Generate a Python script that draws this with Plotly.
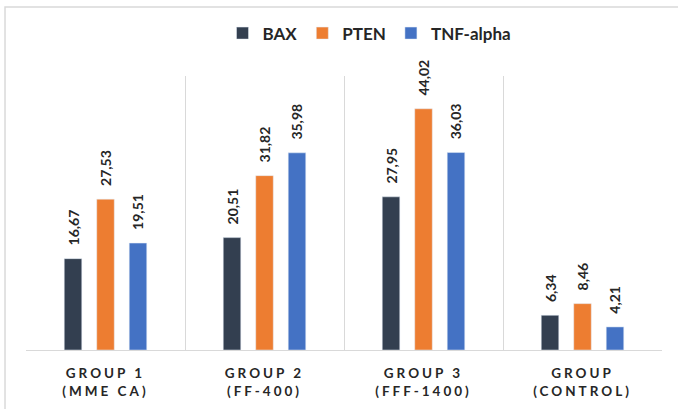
import plotly.graph_objects as go

group_names = ["GROUP 1", "GROUP 2", "GROUP 3", "GROUP"]
group_subs = ["(MME CA)", "(FF-400)", "(FFF-1400)", "(CONTROL)"]
bax = [16.67, 20.51, 27.95, 6.34]
pten = [27.53, 31.82, 44.02, 8.46]
tnf = [19.51, 35.98, 36.03, 4.21]
series_names = ["BAX", "PTEN", "TNF-alpha"]
colors = ["#333F50", "#ED7D31", "#4472C4"]

categories = [f"{a}<br>{b}" for a, b in zip(group_names, group_subs)]
ticktext = [f'<span style="letter-spacing:3px">{a}</span><br><span style="letter-spacing:3px">{b}</span>'
            for a, b in zip(group_names, group_subs)]

def fmt(v):
    return "\u00a0\u00a0\u00a0" + f"{v:.2f}".replace(".", ",")

fig = go.Figure()
for name, vals, col in zip(series_names, [bax, pten, tnf], colors):
    fig.add_trace(go.Bar(
        x=categories, y=vals, name=name, marker_color=col,
        text=[fmt(v) for v in vals], textposition="outside", textangle=-90,
        constraintext="none",
        textfont=dict(family="Lato", size=14, color="#262626", weight="bold"),
        cliponaxis=False,
    ))

fig.update_layout(
    width=678, height=409,
    margin=dict(l=26, r=16, t=76, b=59, autoexpand=False),
    paper_bgcolor="white", plot_bgcolor="white",
    barmode="group", bargap=0.387, bargroupgap=0.46,
    font=dict(family="Lato", color="#404040"),
    showlegend=True,
    legend=dict(orientation="h", x=0.545, xanchor="center", xref="container",
                y=0.918, yanchor="middle", yref="container",
                bgcolor="rgba(0,0,0,0)",
                font=dict(family="Lato", size=17, color="#262626", weight="bold"),
                itemwidth=30, traceorder="normal"),
    shapes=[dict(type="rect", xref="paper", yref="paper", x0=-0.033, x1=1.1, y0=-0.3, y1=1.252,
                 line=dict(color="#d9d9d9", width=1.5), layer="below")],
)
fig.update_xaxes(tickson="boundaries", showgrid=True, gridcolor="#d9d9d9", gridwidth=1,
                 showline=True, linecolor="#d9d9d9", ticks="", ticklen=0,
                 tickmode="array", tickvals=categories, ticktext=ticktext,
                 ticklabelstandoff=11,
                 tickfont=dict(family="Lato", size=13.5, color="#262626", weight="bold"),
                 range=[-0.5, 3.5])
fig.update_yaxes(range=[0, 50], visible=False, showgrid=False, zeroline=False)

fig.write_html("out.html")
